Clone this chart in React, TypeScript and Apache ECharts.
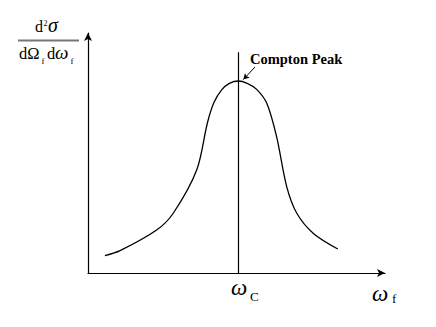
import React, { useEffect, useRef } from "react";
import * as echarts from "echarts";

const curveX = [5.7, 10.8, 23.1, 28.7, 36.6, 40.2, 42.4, 45.0, 47.6, 50.6, 53.6, 56.8, 60.2, 63.5, 66.9, 70.3, 75.9, 84.1];
const curveY = [7.2, 9.3, 17.9, 24.9, 42.9, 62.5, 71.0, 76.3, 79.0, 80.0, 79.0, 76.5, 70.7, 56.8, 36.0, 24.9, 16.5, 10.0];
const peakX = 50.5;
const peakLineTop = 92;
const arrowTail = [56.2, 85.8];
const arrowTip = [52.3, 80.6];
const peakLabel = "Compton Peak";

const SERIF = "'Liberation Serif', 'Times New Roman', serif";

export default function App() {
  const ref = useRef<HTMLDivElement>(null);
  useEffect(() => {
    if (!ref.current) return;
    const chart = echarts.init(ref.current, null, { renderer: "svg" });
    const data = curveX.map((x, i) => [x, curveY[i]]);
    const t = (x: number, y: number, text: string, size: number, extra: any = {}) => ({
      type: "text",
      x,
      y,
      style: { text, fontSize: size, fontFamily: SERIF, fill: "#000", textAlign: "left", textVerticalAlign: "bottom", ...extra },
    });
    chart.setOption({
      animation: false,
      grid: { left: 88, right: 51, top: 33, bottom: 54, containLabel: false },
      xAxis: {
        type: "value", min: 0, max: 100,
        axisLine: { show: true, symbol: ["none", "arrow"], symbolSize: [6, 8], lineStyle: { color: "#000", width: 1.2 } },
        axisTick: { show: false }, axisLabel: { show: false }, splitLine: { show: false },
      },
      yAxis: {
        type: "value", min: 0, max: 100,
        axisLine: { show: true, symbol: ["none", "arrow"], symbolSize: [6, 8], lineStyle: { color: "#000", width: 1.2 } },
        axisTick: { show: false }, axisLabel: { show: false }, splitLine: { show: false },
      },
      series: [
        {
          type: "line",
          data,
          smooth: 0.3,
          showSymbol: false,
          lineStyle: { color: "#000", width: 1.3 },
          markLine: {
            silent: true,
            animation: false,
            label: { show: false },
            data: [
              [
                { coord: [peakX, 0], symbol: "none", lineStyle: { color: "#000", width: 1.2, type: "solid" } },
                { coord: [peakX, peakLineTop], symbol: "none" },
              ],
              [
                { coord: arrowTail, symbol: "none", lineStyle: { color: "#000", width: 1, type: "solid" } },
                { coord: arrowTip, symbol: "arrow", symbolSize: [5, 6] },
              ],
            ],
          },
        },
      ],
      graphic: [
        t(250, 66, peakLabel, 14.5, { fontWeight: "bold" }),
        // y-axis label numerator
        t(35, 34, "d", 16),
        t(43.5, 27, "2", 8),
        t(48, 35, "σ", 20, { fontStyle: "italic" }),
        { type: "line", shape: { x1: 18, y1: 40.5, x2: 79, y2: 40.5 }, style: { stroke: "#777", lineWidth: 2 } },
        // denominator
        t(19, 62, "dΩ", 16.5),
        t(41.5, 65, "f", 9),
        t(47, 62, "d", 16.5),
        t(55, 62, "ω", 19, { fontStyle: "italic" }),
        t(70.5, 65, "f", 9),
        // x labels
        t(231, 299, "ω", 23, { fontStyle: "italic" }),
        t(250, 303, "C", 13),
        t(372, 305, "ω", 23, { fontStyle: "italic" }),
        t(392, 305, "f", 13),
      ],
    });
    return () => chart.dispose();
  }, []);
  return <div ref={ref} style={{ width: 436, height: 327, position: "absolute", left: 0, top: 0 }} />;
}
